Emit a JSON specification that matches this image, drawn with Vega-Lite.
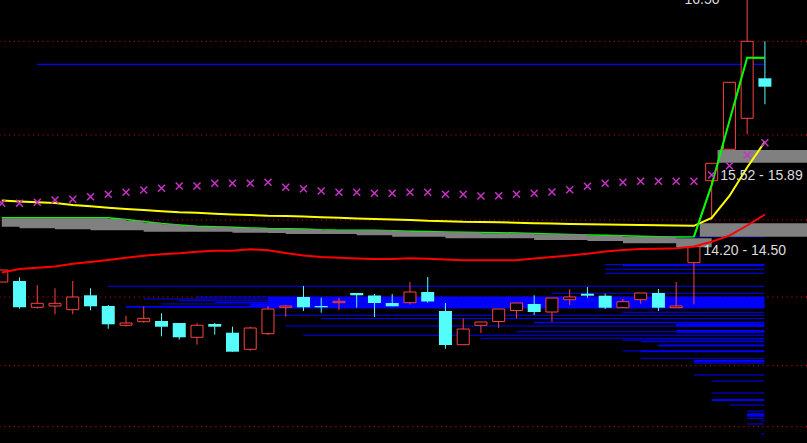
{
  "$schema": "https://vega.github.io/schema/vega-lite/v6.json",
  "width": 807,
  "height": 443,
  "autosize": "none",
  "padding": 0,
  "background": "#000000",
  "config": {"view": {"stroke": null}},
  "datasets": {
    "grid": [{"p": 16.137}, {"p": 15.2}, {"p": 14.35}, {"p": 13.58}, {"p": 12.893}, {"p": 12.283}],
    "topline": [{"k": 1, "k2": 41.97, "p": 15.907}],
    "profile": [
      {"k": 35, "p1": 14.188, "p2": 14.178},
      {"k": 33, "p1": 13.91, "p2": 13.9},
      {"k": 34, "p1": 13.903, "p2": 13.887},
      {"k": 33, "p1": 13.862, "p2": 13.852},
      {"k": 33, "p1": 13.822, "p2": 13.812},
      {"k": 5, "p1": 13.692, "p2": 13.682},
      {"k": 30, "p1": 13.622, "p2": 13.612},
      {"k": 10, "p1": 13.585, "p2": 13.575},
      {"k": 7, "p1": 13.565, "p2": 13.555},
      {"k": 9, "p1": 13.548, "p2": 13.538},
      {"k": 11, "p1": 13.53, "p2": 13.52},
      {"k": 8, "p1": 13.515, "p2": 13.505},
      {"k": 13, "p1": 13.515, "p2": 13.49},
      {"k": 6, "p1": 13.49, "p2": 13.473},
      {"k": 14, "p1": 13.58, "p2": 13.523},
      {"k": 14, "p1": 13.517, "p2": 13.465},
      {"k": 34, "p1": 13.432, "p2": 13.422},
      {"k": 14, "p1": 13.402, "p2": 13.392},
      {"k": 17, "p1": 13.37, "p2": 13.36},
      {"k": 29, "p1": 13.333, "p2": 13.317},
      {"k": 15, "p1": 13.295, "p2": 13.285},
      {"k": 37, "p1": 13.315, "p2": 13.283},
      {"k": 37, "p1": 13.25, "p2": 13.223},
      {"k": 28, "p1": 13.238, "p2": 13.228},
      {"k": 16, "p1": 13.202, "p2": 13.192},
      {"k": 26, "p1": 13.172, "p2": 13.162},
      {"k": 34, "p1": 13.155, "p2": 13.145},
      {"k": 35, "p1": 13.138, "p2": 13.128},
      {"k": 36, "p1": 13.105, "p2": 13.085},
      {"k": 34, "p1": 13.045, "p2": 13.035},
      {"k": 35, "p1": 13.045, "p2": 13.027},
      {"k": 35, "p1": 12.972, "p2": 12.962},
      {"k": 38, "p1": 12.95, "p2": 12.927},
      {"k": 38, "p1": 12.922, "p2": 12.912},
      {"k": 38, "p1": 12.805, "p2": 12.795},
      {"k": 39, "p1": 12.745, "p2": 12.735},
      {"k": 39, "p1": 12.625, "p2": 12.615},
      {"k": 39, "p1": 12.56, "p2": 12.54},
      {"k": 40, "p1": 12.505, "p2": 12.495},
      {"k": 41, "p1": 12.445, "p2": 12.435},
      {"k": 41, "p1": 12.417, "p2": 12.383},
      {"k": 41, "p1": 12.372, "p2": 12.362},
      {"k": 41.8, "p1": 12.348, "p2": 12.338},
      {"k": 41, "p1": 12.315, "p2": 12.305},
      {"k": 41.8, "p1": 12.215, "p2": 12.205}
    ],
    "zones": [
      {"k": 38.33, "p1": 14.317, "p2": 14.183},
      {"k": 39.33, "p1": 15.05, "p2": 14.923}
    ],
    "band": [
      {"k": -1, "gt": 14.367, "gb": 14.283},
      {"k": 0, "gt": 14.367, "gb": 14.267},
      {"k": 1, "gt": 14.367, "gb": 14.267},
      {"k": 2, "gt": 14.367, "gb": 14.257},
      {"k": 3, "gt": 14.367, "gb": 14.257},
      {"k": 4, "gt": 14.367, "gb": 14.247},
      {"k": 5, "gt": 14.36, "gb": 14.247},
      {"k": 6, "gt": 14.343, "gb": 14.247},
      {"k": 7, "gt": 14.323, "gb": 14.233},
      {"k": 8, "gt": 14.307, "gb": 14.233},
      {"k": 9, "gt": 14.293, "gb": 14.233},
      {"k": 10, "gt": 14.283, "gb": 14.233},
      {"k": 11, "gt": 14.283, "gb": 14.233},
      {"k": 12, "gt": 14.273, "gb": 14.223},
      {"k": 13, "gt": 14.267, "gb": 14.223},
      {"k": 14, "gt": 14.263, "gb": 14.22},
      {"k": 15, "gt": 14.26, "gb": 14.21},
      {"k": 16, "gt": 14.257, "gb": 14.21},
      {"k": 17, "gt": 14.247, "gb": 14.21},
      {"k": 18, "gt": 14.247, "gb": 14.21},
      {"k": 19, "gt": 14.247, "gb": 14.197},
      {"k": 20, "gt": 14.247, "gb": 14.197},
      {"k": 21, "gt": 14.24, "gb": 14.183},
      {"k": 22, "gt": 14.233, "gb": 14.183},
      {"k": 23, "gt": 14.233, "gb": 14.183},
      {"k": 24, "gt": 14.227, "gb": 14.167},
      {"k": 25, "gt": 14.227, "gb": 14.167},
      {"k": 26, "gt": 14.217, "gb": 14.167},
      {"k": 27, "gt": 14.217, "gb": 14.167},
      {"k": 28, "gt": 14.217, "gb": 14.167},
      {"k": 29, "gt": 14.207, "gb": 14.15},
      {"k": 30, "gt": 14.207, "gb": 14.15},
      {"k": 31, "gt": 14.207, "gb": 14.15},
      {"k": 32, "gt": 14.193, "gb": 14.14},
      {"k": 33, "gt": 14.193, "gb": 14.14},
      {"k": 34, "gt": 14.183, "gb": 14.117},
      {"k": 35, "gt": 14.183, "gb": 14.117},
      {"k": 36, "gt": 14.183, "gb": 14.117},
      {"k": 37, "gt": 14.167, "gb": 14.077},
      {"k": 38, "gt": 14.167, "gb": 14.077},
      {"k": 39, "gt": 14.167, "gb": 14.077}
    ],
    "ind": [
      {"k": -1, "yel": 14.545, "grn": 14.373, "red": 13.825, "mag": 14.517},
      {"k": 0, "yel": 14.535, "grn": 14.373, "red": 13.86, "mag": 14.517},
      {"k": 1, "yel": 14.527, "grn": 14.373, "red": 13.872, "mag": 14.527},
      {"k": 2, "yel": 14.52, "grn": 14.373, "red": 13.885, "mag": 14.55},
      {"k": 3, "yel": 14.5, "grn": 14.373, "red": 13.913, "mag": 14.557},
      {"k": 4, "yel": 14.487, "grn": 14.373, "red": 13.93, "mag": 14.583},
      {"k": 5, "yel": 14.473, "grn": 14.373, "red": 13.95, "mag": 14.607},
      {"k": 6, "yel": 14.46, "grn": 14.355, "red": 13.973, "mag": 14.627},
      {"k": 7, "yel": 14.45, "grn": 14.335, "red": 13.993, "mag": 14.65},
      {"k": 8, "yel": 14.437, "grn": 14.315, "red": 14.007, "mag": 14.667},
      {"k": 9, "yel": 14.427, "grn": 14.3, "red": 14.017, "mag": 14.69},
      {"k": 10, "yel": 14.422, "grn": 14.287, "red": 14.033, "mag": 14.69},
      {"k": 11, "yel": 14.413, "grn": 14.283, "red": 14.043, "mag": 14.717},
      {"k": 12, "yel": 14.405, "grn": 14.277, "red": 14.043, "mag": 14.717},
      {"k": 13, "yel": 14.4, "grn": 14.271, "red": 14.057, "mag": 14.717},
      {"k": 14, "yel": 14.393, "grn": 14.265, "red": 14.047, "mag": 14.727},
      {"k": 15, "yel": 14.39, "grn": 14.263, "red": 14.02, "mag": 14.677},
      {"k": 16, "yel": 14.385, "grn": 14.26, "red": 13.995, "mag": 14.663},
      {"k": 17, "yel": 14.378, "grn": 14.252, "red": 13.98, "mag": 14.64},
      {"k": 18, "yel": 14.372, "grn": 14.248, "red": 13.973, "mag": 14.627},
      {"k": 19, "yel": 14.365, "grn": 14.247, "red": 13.965, "mag": 14.627},
      {"k": 20, "yel": 14.36, "grn": 14.247, "red": 13.96, "mag": 14.617},
      {"k": 21, "yel": 14.355, "grn": 14.242, "red": 13.96, "mag": 14.617},
      {"k": 22, "yel": 14.35, "grn": 14.237, "red": 13.967, "mag": 14.627},
      {"k": 23, "yel": 14.342, "grn": 14.235, "red": 13.963, "mag": 14.627},
      {"k": 24, "yel": 14.338, "grn": 14.23, "red": 13.955, "mag": 14.607},
      {"k": 25, "yel": 14.332, "grn": 14.227, "red": 13.947, "mag": 14.607},
      {"k": 26, "yel": 14.33, "grn": 14.225, "red": 13.947, "mag": 14.59},
      {"k": 27, "yel": 14.327, "grn": 14.223, "red": 13.947, "mag": 14.593},
      {"k": 28, "yel": 14.322, "grn": 14.22, "red": 13.948, "mag": 14.607},
      {"k": 29, "yel": 14.318, "grn": 14.215, "red": 13.965, "mag": 14.617},
      {"k": 30, "yel": 14.315, "grn": 14.21, "red": 13.98, "mag": 14.63},
      {"k": 31, "yel": 14.31, "grn": 14.205, "red": 13.995, "mag": 14.653},
      {"k": 32, "yel": 14.307, "grn": 14.2, "red": 14.013, "mag": 14.687},
      {"k": 33, "yel": 14.305, "grn": 14.197, "red": 14.035, "mag": 14.717},
      {"k": 34, "yel": 14.302, "grn": 14.192, "red": 14.05, "mag": 14.727},
      {"k": 35, "yel": 14.3, "grn": 14.187, "red": 14.06, "mag": 14.737},
      {"k": 36, "yel": 14.297, "grn": 14.183, "red": 14.063, "mag": 14.737},
      {"k": 37, "yel": 14.295, "grn": 14.18, "red": 14.067, "mag": 14.737},
      {"k": 38, "yel": 14.292, "grn": 14.183, "red": 14.085, "mag": 14.737},
      {"k": 39, "yel": 14.37, "grn": 14.7, "red": 14.133, "mag": 14.8},
      {"k": 40, "yel": 14.59, "grn": 15.34, "red": 14.193, "mag": 14.893},
      {"k": 41, "yel": 14.875, "grn": 15.973, "red": 14.295, "mag": 15.0},
      {"k": 42, "yel": 15.133, "grn": 15.973, "red": 14.405, "mag": 15.123}
    ],
    "candles": [
      {"k": -1, "o": 13.73, "h": 13.85, "l": 13.73, "c": 13.85},
      {"k": 0, "o": 13.74, "h": 13.777, "l": 13.463, "c": 13.477},
      {"k": 1, "o": 13.477, "h": 13.7, "l": 13.463, "c": 13.517},
      {"k": 2, "o": 13.49, "h": 13.667, "l": 13.407, "c": 13.517},
      {"k": 3, "o": 13.453, "h": 13.74, "l": 13.407, "c": 13.58},
      {"k": 4, "o": 13.597, "h": 13.667, "l": 13.447, "c": 13.487},
      {"k": 5, "o": 13.49, "h": 13.5, "l": 13.263, "c": 13.307},
      {"k": 6, "o": 13.297, "h": 13.393, "l": 13.283, "c": 13.32},
      {"k": 7, "o": 13.333, "h": 13.487, "l": 13.323, "c": 13.367},
      {"k": 8, "o": 13.34, "h": 13.417, "l": 13.187, "c": 13.283},
      {"k": 9, "o": 13.32, "h": 13.32, "l": 13.153, "c": 13.177},
      {"k": 10, "o": 13.177, "h": 13.317, "l": 13.103, "c": 13.297},
      {"k": 11, "o": 13.31, "h": 13.32, "l": 13.203, "c": 13.283},
      {"k": 12, "o": 13.223, "h": 13.283, "l": 13.033, "c": 13.033},
      {"k": 13, "o": 13.057, "h": 13.283, "l": 13.043, "c": 13.27},
      {"k": 14, "o": 13.213, "h": 13.49, "l": 13.2, "c": 13.46},
      {"k": 15, "o": 13.477, "h": 13.5, "l": 13.383, "c": 13.49},
      {"k": 16, "o": 13.58, "h": 13.69, "l": 13.44, "c": 13.477},
      {"k": 17, "o": 13.49, "h": 13.573, "l": 13.423, "c": 13.477},
      {"k": 18, "o": 13.523, "h": 13.573, "l": 13.45, "c": 13.537},
      {"k": 19, "o": 13.62, "h": 13.62, "l": 13.473, "c": 13.597},
      {"k": 20, "o": 13.595, "h": 13.61, "l": 13.38, "c": 13.52},
      {"k": 21, "o": 13.52, "h": 13.61, "l": 13.487, "c": 13.487},
      {"k": 22, "o": 13.523, "h": 13.73, "l": 13.505, "c": 13.63},
      {"k": 23, "o": 13.63, "h": 13.78, "l": 13.523, "c": 13.535},
      {"k": 24, "o": 13.44, "h": 13.52, "l": 13.063, "c": 13.1},
      {"k": 25, "o": 13.103, "h": 13.365, "l": 13.103, "c": 13.26},
      {"k": 26, "o": 13.297, "h": 13.33, "l": 13.22, "c": 13.33},
      {"k": 27, "o": 13.335, "h": 13.46, "l": 13.27, "c": 13.46},
      {"k": 28, "o": 13.445, "h": 13.52, "l": 13.367, "c": 13.52},
      {"k": 29, "o": 13.51, "h": 13.597, "l": 13.4, "c": 13.43},
      {"k": 30, "o": 13.43, "h": 13.57, "l": 13.333, "c": 13.57},
      {"k": 31, "o": 13.553, "h": 13.657, "l": 13.5, "c": 13.58},
      {"k": 32, "o": 13.613, "h": 13.68, "l": 13.573, "c": 13.593},
      {"k": 33, "o": 13.593, "h": 13.613, "l": 13.46, "c": 13.473},
      {"k": 34, "o": 13.473, "h": 13.56, "l": 13.473, "c": 13.533},
      {"k": 35, "o": 13.553, "h": 13.62, "l": 13.513, "c": 13.62},
      {"k": 36, "o": 13.62, "h": 13.66, "l": 13.44, "c": 13.473},
      {"k": 37, "o": 13.473, "h": 13.73, "l": 13.473, "c": 13.49},
      {"k": 38, "o": 13.923, "h": 14.083, "l": 13.507, "c": 14.083},
      {"k": 39, "o": 14.743, "h": 14.917, "l": 14.35, "c": 14.917},
      {"k": 40, "o": 15.057, "h": 15.727, "l": 15.057, "c": 15.727},
      {"k": 41, "o": 15.367, "h": 16.55, "l": 15.207, "c": 16.137},
      {"k": 42, "o": 15.767, "h": 16.137, "l": 15.507, "c": 15.683}
    ],
    "labels": [
      {"k": 37.47, "p": 16.51, "t": "16.50"},
      {"k": 39.48, "p": 14.75, "t": "15.52 - 15.89"},
      {"k": 38.54, "p": 14.0, "t": "14.20 - 14.50"}
    ]
  },
  "layer": [
    {
      "data": {"name": "grid"},
      "mark": {"type": "rule", "color": "#c80000", "strokeWidth": 1, "strokeDash": [1.3, 3.5]},
      "encoding": {
        "y": {"field": "p", "type": "quantitative", "scale": {"domain": [12.12, 16.55], "nice": false, "zero": false}, "axis": null}
      }
    },
    {
      "data": {"name": "topline"},
      "mark": {"type": "rule", "color": "#0000ff", "strokeWidth": 1.3, "clip": true},
      "encoding": {
        "x": {"field": "k", "type": "quantitative", "scale": {"domain": [-0.818, 44.09], "nice": false, "zero": false}, "axis": null},
        "x2": {"field": "k2"},
        "y": {"field": "p", "type": "quantitative", "scale": {"domain": [12.12, 16.55], "nice": false, "zero": false}, "axis": null}
      }
    },
    {
      "data": {"name": "profile"},
      "mark": {"type": "rect", "color": "#0000ff", "clip": true},
      "encoding": {
        "x": {"field": "k", "type": "quantitative", "scale": {"domain": [-0.818, 44.09], "nice": false, "zero": false}, "axis": null},
        "x2": {"datum": 41.97},
        "y": {"field": "p1", "type": "quantitative", "scale": {"domain": [12.12, 16.55], "nice": false, "zero": false}, "axis": null},
        "y2": {"field": "p2"}
      }
    },
    {
      "data": {"name": "ind"},
      "mark": {"type": "line", "color": "#00ff00", "strokeWidth": 1.5, "clip": true},
      "encoding": {
        "x": {"field": "k", "type": "quantitative", "scale": {"domain": [-0.818, 44.09], "nice": false, "zero": false}, "axis": null},
        "y": {"field": "grn", "type": "quantitative", "scale": {"domain": [12.12, 16.55], "nice": false, "zero": false}, "axis": null}
      }
    },
    {
      "data": {"name": "band"},
      "mark": {"type": "area", "color": "#808080", "interpolate": "step-after", "clip": true},
      "encoding": {
        "x": {"field": "k", "type": "quantitative", "scale": {"domain": [-0.818, 44.09], "nice": false, "zero": false}, "axis": null},
        "y": {"field": "gt", "type": "quantitative", "scale": {"domain": [12.12, 16.55], "nice": false, "zero": false}, "axis": null},
        "y2": {"field": "gb"}
      }
    },
    {
      "data": {"name": "zones"},
      "mark": {"type": "rect", "color": "#808080", "clip": true},
      "encoding": {
        "x": {"field": "k", "type": "quantitative", "scale": {"domain": [-0.818, 44.09], "nice": false, "zero": false}, "axis": null},
        "x2": {"datum": 45},
        "y": {"field": "p1", "type": "quantitative", "scale": {"domain": [12.12, 16.55], "nice": false, "zero": false}, "axis": null},
        "y2": {"field": "p2"}
      }
    },
    {
      "data": {"name": "candles"},
      "transform": [{"filter": "datum.c >= datum.o"}],
      "mark": {"type": "rule", "color": "#ff4040", "strokeWidth": 1, "clip": true},
      "encoding": {
        "x": {"field": "k", "type": "quantitative", "scale": {"domain": [-0.818, 44.09], "nice": false, "zero": false}, "axis": null},
        "y": {"field": "h", "type": "quantitative", "scale": {"domain": [12.12, 16.55], "nice": false, "zero": false}, "axis": null},
        "y2": {"field": "l"}
      }
    },
    {
      "data": {"name": "candles"},
      "transform": [{"filter": "datum.c < datum.o"}],
      "mark": {"type": "rule", "color": "#54fcfc", "strokeWidth": 1, "clip": true},
      "encoding": {
        "x": {"field": "k", "type": "quantitative", "scale": {"domain": [-0.818, 44.09], "nice": false, "zero": false}, "axis": null},
        "y": {"field": "h", "type": "quantitative", "scale": {"domain": [12.12, 16.55], "nice": false, "zero": false}, "axis": null},
        "y2": {"field": "l"}
      }
    },
    {
      "data": {"name": "candles"},
      "transform": [{"filter": "datum.c >= datum.o"}],
      "mark": {"type": "bar", "size": 12, "fill": "#000000", "stroke": "#ff4040", "strokeWidth": 1, "clip": true},
      "encoding": {
        "x": {"field": "k", "type": "quantitative", "scale": {"domain": [-0.818, 44.09], "nice": false, "zero": false}, "axis": null},
        "y": {"field": "o", "type": "quantitative", "scale": {"domain": [12.12, 16.55], "nice": false, "zero": false}, "axis": null},
        "y2": {"field": "c"}
      }
    },
    {
      "data": {"name": "candles"},
      "transform": [{"filter": "datum.c < datum.o"}],
      "mark": {"type": "bar", "size": 13, "fill": "#54fcfc", "clip": true},
      "encoding": {
        "x": {"field": "k", "type": "quantitative", "scale": {"domain": [-0.818, 44.09], "nice": false, "zero": false}, "axis": null},
        "y": {"field": "o", "type": "quantitative", "scale": {"domain": [12.12, 16.55], "nice": false, "zero": false}, "axis": null},
        "y2": {"field": "c"}
      }
    },
    {
      "data": {"name": "ind"},
      "mark": {"type": "line", "color": "#ff0000", "strokeWidth": 2, "clip": true},
      "encoding": {
        "x": {"field": "k", "type": "quantitative", "scale": {"domain": [-0.818, 44.09], "nice": false, "zero": false}, "axis": null},
        "y": {"field": "red", "type": "quantitative", "scale": {"domain": [12.12, 16.55], "nice": false, "zero": false}, "axis": null}
      }
    },
    {
      "data": {"name": "ind"},
      "mark": {"type": "line", "color": "#ffff00", "strokeWidth": 2, "clip": true},
      "encoding": {
        "x": {"field": "k", "type": "quantitative", "scale": {"domain": [-0.818, 44.09], "nice": false, "zero": false}, "axis": null},
        "y": {"field": "yel", "type": "quantitative", "scale": {"domain": [12.12, 16.55], "nice": false, "zero": false}, "axis": null}
      }
    },
    {
      "data": {"name": "ind"},
      "transform": [{"filter": "datum.k >= 38"}],
      "mark": {"type": "line", "color": "#00ff00", "strokeWidth": 2, "clip": true},
      "encoding": {
        "x": {"field": "k", "type": "quantitative", "scale": {"domain": [-0.818, 44.09], "nice": false, "zero": false}, "axis": null},
        "y": {"field": "grn", "type": "quantitative", "scale": {"domain": [12.12, 16.55], "nice": false, "zero": false}, "axis": null}
      }
    },
    {
      "data": {"name": "ind"},
      "mark": {"type": "point", "shape": "M-1,-1L1,1M-1,1L1,-1", "filled": false, "size": 49, "stroke": "#c832c8", "strokeWidth": 1.5, "opacity": 1, "clip": true},
      "encoding": {
        "x": {"field": "k", "type": "quantitative", "scale": {"domain": [-0.818, 44.09], "nice": false, "zero": false}, "axis": null},
        "y": {"field": "mag", "type": "quantitative", "scale": {"domain": [12.12, 16.55], "nice": false, "zero": false}, "axis": null}
      }
    },
    {
      "data": {"name": "labels"},
      "mark": {"type": "text", "font": "Liberation Sans", "fontSize": 14, "color": "#dcdcdc", "align": "left", "baseline": "alphabetic", "clip": true},
      "encoding": {
        "x": {"field": "k", "type": "quantitative", "scale": {"domain": [-0.818, 44.09], "nice": false, "zero": false}, "axis": null},
        "y": {"field": "p", "type": "quantitative", "scale": {"domain": [12.12, 16.55], "nice": false, "zero": false}, "axis": null},
        "text": {"field": "t"}
      }
    }
  ]
}
